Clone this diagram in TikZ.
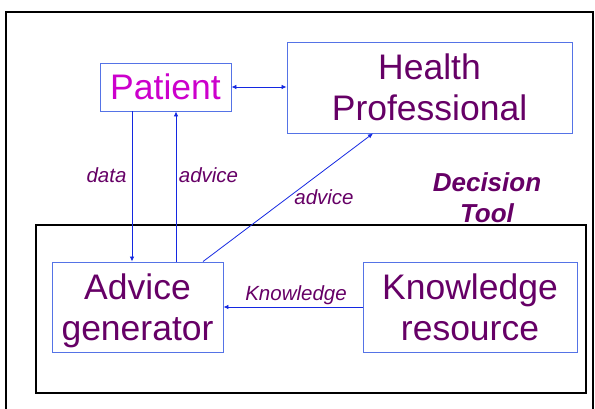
\documentclass[tikz,border=0pt]{standalone}
\usepackage{fontspec}
\setmainfont{Liberation Sans}
\usetikzlibrary{arrows.meta,calc,positioning}
\definecolor{boxblue}{RGB}{85,115,230}
\definecolor{arrowblue}{RGB}{20,40,225}
\definecolor{txtpurple}{RGB}{102,0,102}
\definecolor{txtmagenta}{RGB}{204,0,204}
\begin{document}
\begin{tikzpicture}[x=1pt,y=-1pt,
  box/.style={draw=boxblue,line width=0.9pt,inner sep=0pt,align=center,text=txtpurple,font=\fontsize{35.5}{41}\selectfont},
  link/.style={draw=arrowblue,line width=0.8pt,-{Latex[length=5pt,width=4.5pt]}},
  lbl/.style={text=txtpurple,font=\fontsize{20.5}{24}\selectfont\itshape,inner sep=0pt}]
\useasboundingbox (0,0) rectangle (595,409);
\draw[line width=2.6pt] (6,415) -- (6,12) -- (593,12) -- (593,415);
\draw[line width=1.4pt] (36,225) rectangle (586,393);

\node (P) [box,text=txtmagenta,minimum width=131pt,minimum height=48pt] at (165.5,87) {Patient};
\node (HP) [box,minimum width=285pt,minimum height=91pt] at (429.5,87.5) {Health\\Professional};
\node (AG) [box,minimum width=171pt,minimum height=90pt] at (137.5,307) {Advice\\\smash{generator}};
\node (KR) [box,minimum width=214pt,minimum height=90pt] at (470,307) {Knowledge\\resource};
\node (T) [text=txtpurple,align=center,font=\fontsize{26}{31}\selectfont\bfseries\itshape] at (487,198) {Decision\\Tool};

\draw[link] ([xshift=-33.5pt]P.south) -- ([xshift=-33.5pt]P.south |- AG.north);
\draw[link] ([xshift=10.5pt]P.south |- AG.north) -- ([xshift=10.5pt]P.south);
\draw[link,{Latex[length=5pt,width=4.5pt]}-{Latex[length=5pt,width=4.5pt]}] (P.east) -- (P.east -| HP.west);
\draw[link] ([xshift=65.5pt]AG.north) -- ([xshift=-56.5pt]HP.south);
\draw[link] (KR.west) -- (AG.east);

\node (ldata) [lbl] at (106.5,175) {data};
\node (ladv) [lbl] at (208.5,175) {advice};
\node (ladv2) [lbl] at (324,197) {advice};
\node (lknow) [lbl] at (296,295) {Knowledge};
\end{tikzpicture}
\end{document}
